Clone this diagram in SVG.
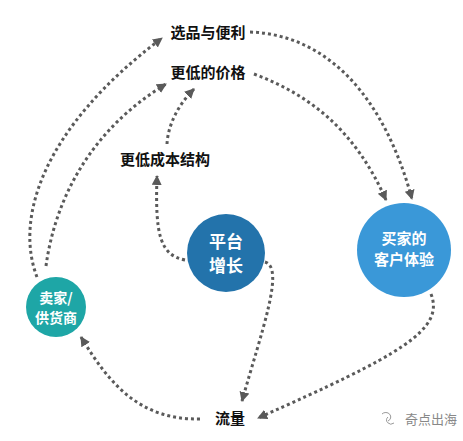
<svg xmlns="http://www.w3.org/2000/svg" width="463" height="441" viewBox="0 0 463 441">
<defs>
<style>
.lbl{font-family:"Noto Sans CJK SC","Liberation Sans",sans-serif;font-weight:bold;font-size:15px;fill:#111;}
.ctext{font-family:"Noto Sans CJK SC","Liberation Sans",sans-serif;font-weight:bold;fill:#fff;}
.con{fill:none;stroke:#5a5a5a;stroke-width:3;stroke-dasharray:3 3;marker-end:url(#arr);}
</style>
<marker id="arr" markerUnits="userSpaceOnUse" markerWidth="12" markerHeight="12" refX="9" refY="5" orient="auto">
<path d="M0,0 L10,5 L0,10 Z" fill="#5a5a5a"/>
</marker>
</defs>
<rect width="463" height="441" fill="#fff"/>
<g id="connectors">
<path class="con" d="M37 277 C15 220 40 130 162 38"/>
<path class="con" d="M46 266 C55 200 90 130 166 84"/>
<path class="con" d="M185 260 C160 255 155 235 157 176"/>
<path class="con" d="M167 144 C168 125 178 105 194 89"/>
<path class="con" d="M250 32 C330 35 385 100 412 199"/>
<path class="con" d="M254 74 C310 95 355 130 386 200"/>
<path class="con" d="M265 262 C285 268 262 330 242 401"/>
<path class="con" d="M431 294 C445 330 400 355 258 418"/>
<path class="con" d="M200 419 C140 420 110 385 81 337"/>
</g>
<g id="n-xuanpin"><text class="lbl" x="208" y="38" text-anchor="middle">选品与便利</text></g>
<g id="n-price"><text class="lbl" x="208" y="78" text-anchor="middle">更低的价格</text></g>
<g id="n-cost"><text class="lbl" x="165" y="165" text-anchor="middle">更低成本结构</text></g>
<g id="n-platform">
<circle cx="226" cy="253" r="39" fill="#2373AB"/>
<text class="ctext" font-size="17" text-anchor="middle"><tspan x="226" y="248">平台</tspan><tspan x="226" y="272">增长</tspan></text>
</g>
<g id="n-buyer">
<circle cx="404" cy="250" r="47" fill="#3A98D8"/>
<text class="ctext" font-size="15" text-anchor="middle"><tspan x="404" y="244">买家的</tspan><tspan x="404" y="265">客户体验</tspan></text>
</g>
<g id="n-seller">
<circle cx="56" cy="307" r="30" fill="#1EA6A6"/>
<text class="ctext" font-size="14" text-anchor="middle"><tspan x="56" y="303">卖家/</tspan><tspan x="56" y="323">供货商</tspan></text>
</g>
<g id="n-traffic"><text class="lbl" x="230" y="424" text-anchor="middle">流量</text></g>
<g id="watermark">
<path d="M382 414 a5 4.5 0 1 1 6 7 M388 417 a4.5 4 0 1 0 6 6" fill="none" stroke="#999" stroke-width="1"/>
<text x="405" y="424" font-family="Noto Sans CJK SC,sans-serif" font-size="13" fill="#888">奇点出海</text>
</g>
</svg>
